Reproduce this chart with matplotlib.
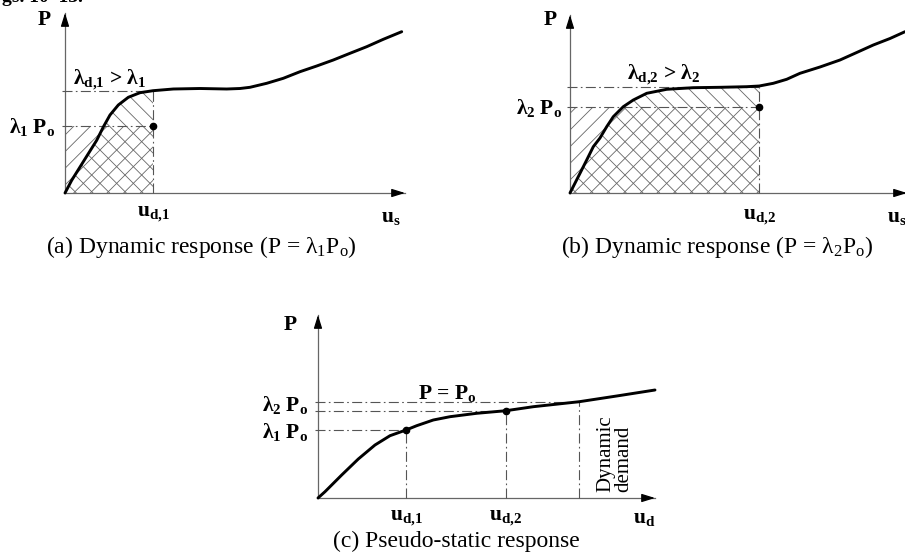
import matplotlib
matplotlib.use('Agg')
import matplotlib.pyplot as plt
from matplotlib.patches import Rectangle

plt.rcParams['font.family'] = ['Liberation Serif', 'DejaVu Serif']
plt.rcParams['mathtext.fontset'] = 'custom'
plt.rcParams['mathtext.rm'] = 'Liberation Serif'
plt.rcParams['mathtext.it'] = 'Liberation Serif:italic'
plt.rcParams['mathtext.bf'] = 'Liberation Serif:bold'
plt.rcParams['hatch.linewidth'] = 0.6

# ---------------- data ----------------
# panel (a): static capacity curve, dynamic response at lambda_1 P_o
a_u = [0, 0.067, 0.15, 0.233, 0.317, 0.383, 0.45, 0.533, 0.633, 0.75, 0.88,
       1.083, 1.35, 1.617, 1.75, 1.85, 2.017, 2.183, 2.35, 2.517, 2.683,
       2.85, 3.017, 3.183, 3.367]
a_P = [0, 0.127, 0.26, 0.393, 0.527, 0.66, 0.78, 0.88, 0.957, 1.003, 1.023,
       1.04, 1.045, 1.04, 1.045, 1.057, 1.097, 1.147, 1.213, 1.27, 1.33,
       1.397, 1.463, 1.537, 1.613]
a_ud = 0.88
a_lam = 0.673
a_lamd = 1.02
a_xmax, a_ymax = 3.40, 1.80

# panel (b): dynamic response at lambda_2 P_o
b_u = [0, 0.10, 0.167, 0.233, 0.30, 0.367, 0.433, 0.533, 0.633, 0.767, 0.967,
       1.233, 1.5, 1.767, 1.893, 2.033, 2.167, 2.3, 2.5, 2.7, 2.867, 3.033,
       3.2, 3.35]
b_P = [0, 0.197, 0.33, 0.463, 0.55, 0.663, 0.763, 0.863, 0.93, 0.997, 1.037,
       1.053, 1.057, 1.063, 1.07, 1.097, 1.137, 1.197, 1.26, 1.33, 1.405,
       1.48, 1.545, 1.613]
b_ud = 1.893
b_lam = 0.857
b_lamd = 1.063
b_xmax, b_ymax = 3.37, 1.78

# panel (c): pseudo-static response
c_u = [0, 0.07, 0.237, 0.403, 0.57, 0.72, 0.88, 0.987, 1.153, 1.32, 1.587,
       1.88, 2.153, 2.613, 2.987, 3.37]
c_P = [0, 0.063, 0.23, 0.39, 0.53, 0.623, 0.68, 0.723, 0.78, 0.813, 0.847,
       0.873, 0.913, 0.963, 1.02, 1.08]
c_ud = [0.88, 1.88]
c_lam = [0.68, 0.873]
c_dyn = 2.613
c_P0 = 0.96
c_xmax, c_ymax = 3.37, 1.83

W, H, S = 905, 560, 100.0
fig = plt.figure(figsize=(W / 100, H / 100), dpi=100)
fig.patch.set_facecolor('white')

CURVE = dict(color='black', lw=2.1, solid_capstyle='round',
             solid_joinstyle='round', zorder=5)
GUIDE = dict(color='#555555', lw=0.8, dashes=(9, 3, 1.5, 3), zorder=3)
LAB = dict(fontsize=15.5, fontweight='bold')
CAP = dict(fontsize=17)


def panel(box, origin):
    l, t, w, h = box
    ox, oy = origin
    ax = fig.add_axes([l / W, 1 - (t + h) / H, w / W, h / H])
    ax.set_xlim((l - ox) / S, (l + w - ox) / S)
    ax.set_ylim((oy - (t + h)) / S, (oy - t) / S)
    ax.axis('off')
    return ax


def axes_arrows(ax, xmax, ymax):
    ax.plot([0, xmax], [0, 0], color='#666666', lw=0.9, zorder=2)
    ax.plot([0, 0], [0, ymax], color='#666666', lw=0.9, zorder=2)
    ap = dict(arrowstyle='-|>,head_length=0.8,head_width=0.25', color='black',
              lw=0.9, shrinkA=0, shrinkB=0)
    ax.annotate('', xy=(xmax, 0), xytext=(xmax - 0.12, 0), arrowprops=ap,
                annotation_clip=False)
    ax.annotate('', xy=(0, ymax), xytext=(0, ymax - 0.12), arrowprops=ap,
                annotation_clip=False)


def dyn_panel(ax, u, P, ud, lam, lamd, xmax, ymax):
    axes_arrows(ax, xmax, ymax)
    uu = [x for x in u if x <= ud]
    pp = P[:len(uu)]
    ax.fill_between(uu, 0, pp, facecolor='none', edgecolor='#666666',
                    hatch='\\\\', linewidth=0, zorder=1)
    ax.add_patch(Rectangle((0, 0), ud, lam, facecolor='none',
                           edgecolor='#666666', hatch='//', linewidth=0,
                           zorder=1))
    ax.plot([-0.03, ud], [lamd, lamd], **GUIDE)
    ax.plot([-0.03, ud], [lam, lam], **GUIDE)
    ax.plot([ud, ud], [0, lamd], **GUIDE)
    ax.plot(u, P, **CURVE)
    ax.plot([ud], [lam], 'o', color='black', ms=4.5, zorder=6)


# ---------- (a) ----------
axa = panel((0, 0, 452, 270), (65, 193))
dyn_panel(axa, a_u, a_P, a_ud, a_lam, a_lamd, a_xmax, a_ymax)
axa.text(-0.21, 1.73, 'P', ha='center', va='center', **LAB)
axa.text(-0.10, 0.66, r'$\mathbf{\lambda_1\ P_o}$', ha='right', va='center', **LAB)
axa.text(0.08, 1.13, r'$\mathbf{\lambda_{d{,}1}}$ > $\mathbf{\lambda_1}$',
         ha='left', va='center', **LAB)
axa.text(a_ud, -0.21, r'$\mathbf{u_{d{,}1}}$', ha='center', va='center', **LAB)
axa.text(3.26, -0.24, r'$\mathbf{u_s}$', ha='center', va='center', **LAB)
axa.text(1.36, -0.54, r'(a) Dynamic response (P = $\mathrm{\lambda_1 P_o}$)',
         ha='center', va='center', **CAP)

# ---------- (b) ----------
axb = panel((452, 0, 453, 270), (570, 193))
dyn_panel(axb, b_u, b_P, b_ud, b_lam, b_lamd, b_xmax, b_ymax)
axb.text(-0.20, 1.73, 'P', ha='center', va='center', **LAB)
axb.text(-0.08, 0.85, r'$\mathbf{\lambda_2\ P_o}$', ha='right', va='center', **LAB)
axb.text(0.57, 1.18, r'$\mathbf{\lambda_{d{,}2}}$ > $\mathbf{\lambda_2}$',
         ha='left', va='center', **LAB)
axb.text(b_ud, -0.24, r'$\mathbf{u_{d{,}2}}$', ha='center', va='center', **LAB)
axb.text(3.17, -0.24, r'$\mathbf{u_s}$', ha='left', va='center', **LAB)
axb.text(1.47, -0.54, r'(b) Dynamic response (P = $\mathrm{\lambda_2 P_o}$)',
         ha='center', va='center', **CAP)

# ---------- (c) ----------
axc = panel((200, 270, 505, 290), (318, 498))
axes_arrows(axc, c_xmax, c_ymax)
axc.plot([-0.03, c_dyn], [c_P0, c_P0], **GUIDE)
axc.plot([c_dyn, c_dyn], [0, c_P0], **GUIDE)
for ud, lam in zip(c_ud, c_lam):
    axc.plot([-0.03, ud], [lam, lam], **GUIDE)
    axc.plot([ud, ud], [0, lam], **GUIDE)
axc.plot(c_u, c_P, **CURVE)
axc.plot(c_ud, c_lam, 'o', color='black', ms=4.5, zorder=6)
axc.text(-0.28, 1.73, 'P', ha='center', va='center', **LAB)
axc.text(-0.10, 0.93, r'$\mathbf{\lambda_2\ P_o}$', ha='right', va='center', **LAB)
axc.text(-0.10, 0.66, r'$\mathbf{\lambda_1\ P_o}$', ha='right', va='center', **LAB)
axc.text(1.29, 1.05, r'P = $\mathbf{P_o}$', ha='center', va='center', **LAB)
axc.text(c_ud[0], -0.20, r'$\mathbf{u_{d{,}1}}$', ha='center', va='center', **LAB)
axc.text(c_ud[1], -0.20, r'$\mathbf{u_{d{,}2}}$', ha='center', va='center', **LAB)
axc.text(3.26, -0.20, r'$\mathbf{u_d}$', ha='center', va='center', **LAB)
axc.text(2.97, 0.06, 'Dynamic\ndemand', rotation=90, ha='center', va='bottom',
         multialignment='left', fontsize=15, linespacing=0.95)
axc.text(1.38, -0.43, '(c) Pseudo-static response', ha='center', va='center', **CAP)

# cut-off running text at the very top
fig.text(2 / W, 1 - 1.5 / H, 'gs. 10\u201313.', ha='left', va='baseline',
         fontsize=14, fontweight='bold')

fig.savefig('out.png', dpi=100, facecolor='white')
